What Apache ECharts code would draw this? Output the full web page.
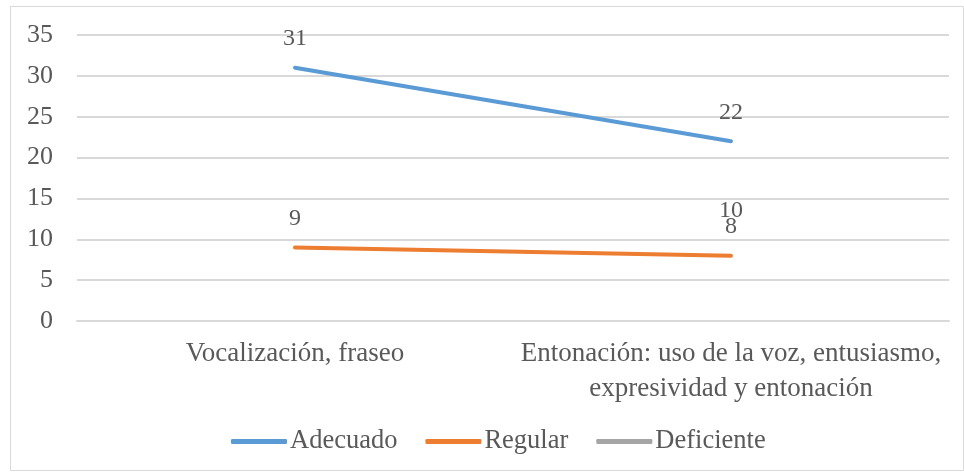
<!DOCTYPE html>
<html>
<head>
<meta charset="utf-8">
<script src="https://cdn.jsdelivr.net/npm/echarts@6/dist/echarts.min.js"></script>
<style>
  html, body { margin: 0; padding: 0; background: #fff; }
  #chart { width: 964px; height: 472px; }
</style>
</head>
<body>
<div id="chart"></div>
<script>
// datos del gráfico
const categorias = ['Vocalización, fraseo', 'Entonación: uso de la voz, entusiasmo,\nexpresividad y entonación'];
const adecuado = [31, 22];
const regular = [9, 8];
const deficiente = [null, 10];
const ejeY = { min: 0, max: 35, interval: 5 };

const fuente = '"Liberation Serif", "Times New Roman", serif';
const gris = '#595959';

let chart = echarts.init(document.getElementById('chart'));

function serie(nombre, datos, color) {
  return {
    name: nombre,
    type: 'line',
    data: datos,
    symbol: 'circle',
    symbolSize: 0,
    showSymbol: true,
    lineStyle: { width: 4, color: color, cap: 'round' },
    itemStyle: { color: color },
    label: {
      show: true,
      position: 'top',
      distance: 17,
      color: gris,
      fontFamily: fuente,
      fontSize: 24
    },
    emphasis: { disabled: true }
  };
}

const option = {
  animation: false,
  textStyle: { fontFamily: fuente },
  graphic: [{
    type: 'rect',
    shape: { x: 10.5, y: 6.5, width: 953, height: 464 },
    style: { fill: 'none', stroke: '#d9d9d9', lineWidth: 1 },
    silent: true
  }],
  grid: { left: 77, right: 15, top: 35, bottom: 151 },
  legend: {
    top: 423,
    left: 226,
    icon: 'roundRect',
    itemWidth: 56,
    itemHeight: 5,
    itemGap: 28,
    textStyle: { color: gris, fontFamily: fuente, fontSize: 26.5, padding: [0, 0, 0, -2] },
    data: ['Adecuado', 'Regular', 'Deficiente']
  },
  xAxis: {
    type: 'category',
    data: categorias,
    boundaryGap: true,
    axisLine: { show: true, lineStyle: { color: '#d9d9d9', width: 2 } },
    axisTick: { show: false },
    axisLabel: {
      color: gris,
      fontFamily: fuente,
      fontSize: 27,
      margin: 15,
      lineHeight: 35,
      interval: 0
    }
  },
  yAxis: {
    type: 'value',
    min: ejeY.min,
    max: ejeY.max,
    interval: ejeY.interval,
    axisLine: { show: false },
    axisTick: { show: false },
    splitLine: { lineStyle: { color: '#d9d9d9', width: 2 } },
    axisLabel: { color: gris, fontFamily: fuente, fontSize: 26, margin: 24 }
  },
  series: [
    serie('Adecuado', adecuado, '#5B9BD5'),
    serie('Regular', regular, '#ED7D31'),
    serie('Deficiente', deficiente, '#A5A5A5')
  ]
};

chart.setOption(option);
</script>
</body>
</html>
